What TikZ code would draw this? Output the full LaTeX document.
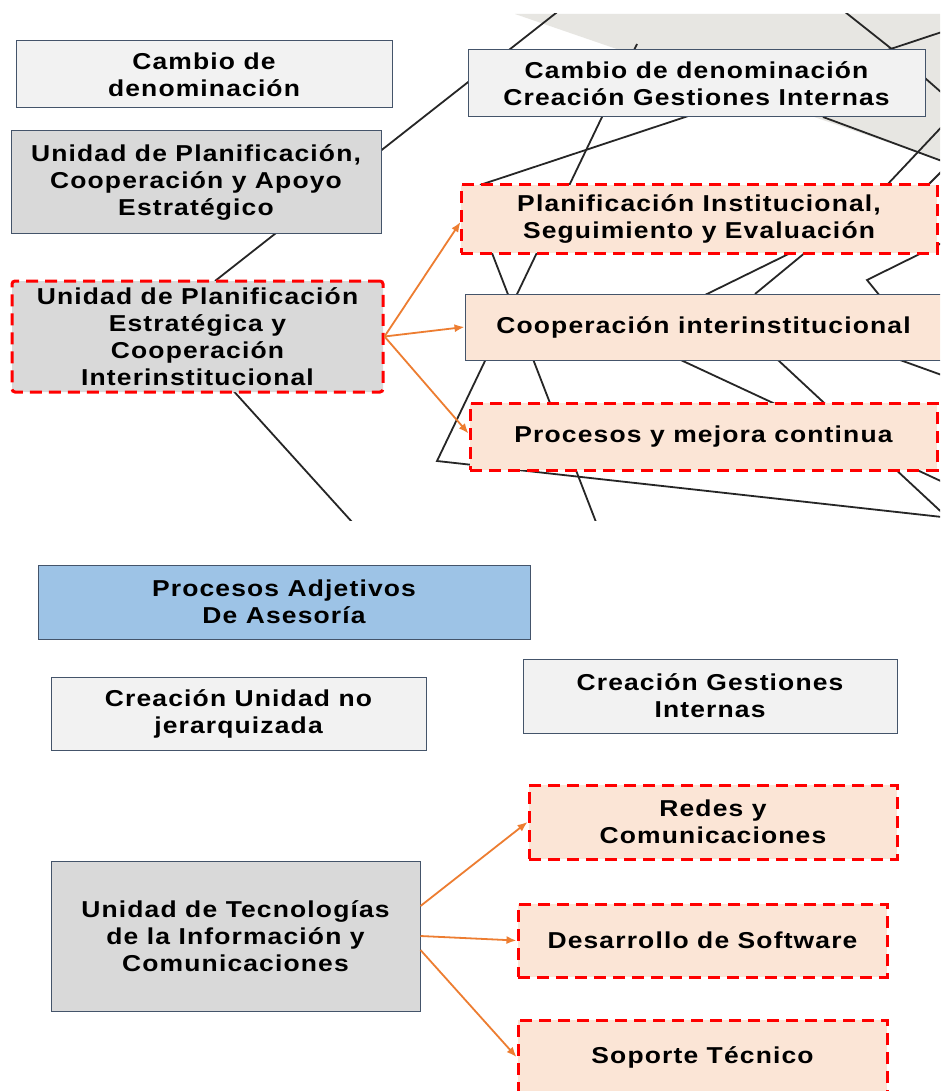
\documentclass[tikz,border=0pt]{standalone}
\usepackage{fontspec}
\setmainfont{Liberation Sans}[FakeStretch=1.15,LetterSpace=5]
\usetikzlibrary{arrows.meta,calc}
\definecolor{slate}{HTML}{44546A}
\definecolor{boxlight}{HTML}{F2F2F2}
\definecolor{boxgrey}{HTML}{D9D9D9}
\definecolor{peachfill}{HTML}{FBE5D6}
\definecolor{bluefill}{HTML}{9DC3E6}
\definecolor{arrorange}{HTML}{ED7D31}
\definecolor{decoline}{HTML}{262626}
\definecolor{greybg}{HTML}{E7E6E2}
\definecolor{dashred}{HTML}{FF0000}
\begin{document}
\begin{tikzpicture}[x=1pt,y=-1pt,
  box/.style={draw=slate, line width=1pt, inner sep=0pt, align=center,
    font=\bfseries\fontsize{23}{27}\selectfont, text=black},
  lite/.style={box, fill=boxlight},
  darkbox/.style={box, fill=boxgrey},
  peach/.style={box, fill=peachfill},
  bluebox/.style={box, fill=bluefill},
  reddash/.style={draw=dashred, line width=3pt, dash pattern=on 12pt off 7pt},
  deco/.style={draw=decoline, line width=1.8pt},
  arr/.style={draw=arrorange, line width=1.8pt, -{Latex[length=10pt,width=8pt]}}]
\useasboundingbox (0,0) rectangle (940,1091);
\clip (0,0) rectangle (940,1091);
\fill[white] (0,0) rectangle (940,1091);

% background of the upper screenshot
\begin{scope}
\clip (0,14) rectangle (940,520);
\fill[greybg] (515,14) -- (945,14) -- (945,162) -- cycle;
\draw[deco] (215,281) -- (570,2);
\draw[deco] (220,376) -- (362,533);
\draw[deco] (637,44) -- (437,461) -- (960,519);
\draw[deco] (480,222) -- (601,535);
\draw[deco] (480,185) -- (960,26);
\draw[deco] (840,8) -- (893,50) -- (950,100);
\draw[deco] (823,117) -- (950,164);
\draw[deco] (950,118) -- (886,186) -- (755,294);
\draw[deco] (950,163) -- (927,186) -- (707,294) -- (950,520);
\draw[deco] (950,239) -- (867,280) -- (880,296) -- (900,360) -- (950,378);
\draw[deco] (670,355) -- (960,490);
\end{scope}

% upper boxes
\node[lite, minimum width=376pt, minimum height=67pt] (b1) at (204,74.5) {Cambio de\\denominación};
\node[lite, minimum width=457pt, minimum height=67pt] (b2) at (696.5,83.5) {Cambio de denominación\\Creación Gestiones Internas};
\node[darkbox, minimum width=370pt, minimum height=103pt] (b3) at (196,182.5) {Unidad de Planificación,\\Cooperación y Apoyo\\Estratégico};
\node[darkbox, reddash, rounded corners=3pt, minimum width=371pt, minimum height=111pt] (b4) at (197.5,336.5) {Unidad de Planificación\\Estratégica y\\Cooperación\\Interinstitucional};
\node[peach, reddash, minimum width=476pt, minimum height=68pt] (b5) at (699,219) {Planificación Institucional,\\Seguimiento y Evaluación};
\node[peach, minimum width=477pt, minimum height=66pt] (b6) at (703.5,327) {Cooperación interinstitucional};
\node[peach, reddash, minimum width=467pt, minimum height=67pt] (b7) at (703.5,436.5) {Procesos y mejora continua};

\draw[arr] (b4.east) -- ($(b5.west)+(1,3)$);
\draw[arr] (b4.east) -- (b6.west);
\draw[arr] (b4.east) -- ($(b7.west)+(0,-3)$);

% lower boxes
\node[bluebox, minimum width=492pt, minimum height=74pt] (b8) at (284,602) {Procesos Adjetivos\\De Asesoría};
\node[lite, minimum width=375pt, minimum height=73pt] (b9) at (238.5,713.5) {Creación Unidad no\\jerarquizada};
\node[lite, minimum width=374pt, minimum height=74pt] (b10) at (710,696) {Creación Gestiones\\Internas};
\node[peach, reddash, minimum width=368pt, minimum height=74pt] (b11) at (713,822) {Redes y\\Comunicaciones};
\node[darkbox, minimum width=369pt, minimum height=150pt] (b12) at (235.5,936) {Unidad de Tecnologías\\de la Información y\\Comunicaciones};
\node[peach, reddash, minimum width=369pt, minimum height=73pt] (b13) at (702.5,940.5) {Desarrollo de Software};
\node[peach, reddash, minimum width=369pt, minimum height=74pt] (b14) at (702.5,1057) {Soporte Técnico};

\draw[arr] ([yshift=30pt]b12.east) -- (b11.west);
\draw[arr] (b12.east) -- (b13.west);
\draw[arr] ([yshift=-14pt]b12.east) -- (b14.west);
\end{tikzpicture}
\end{document}
